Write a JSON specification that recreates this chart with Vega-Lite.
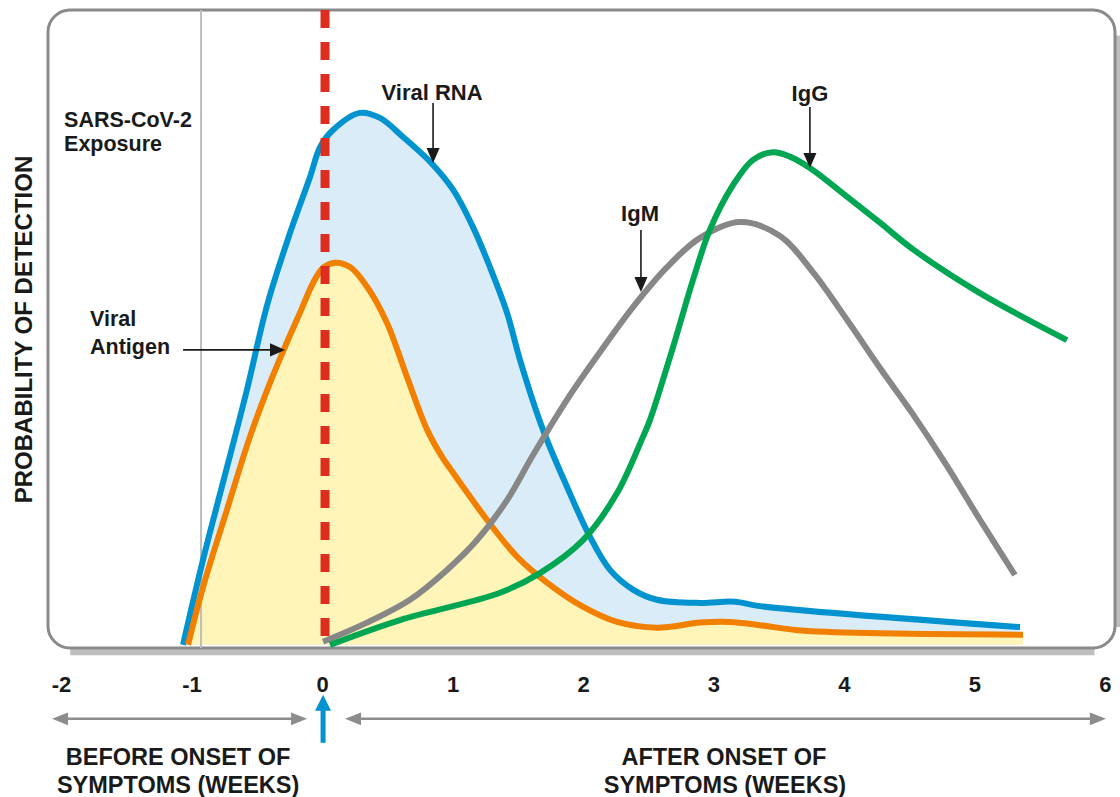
{
  "$schema": "https://vega.github.io/schema/vega-lite/v6.json",
  "width": 1067,
  "height": 638,
  "autosize": {"type": "none"},
  "padding": {"left": 48, "top": 10, "right": 5, "bottom": 149},
  "background": "white",
  "config": {
    "font": "Liberation Sans",
    "view": {"stroke": "#8a8a8a", "strokeWidth": 3, "cornerRadius": 22, "fill": "white"}
  },
  "datasets": {
    "rna": [
      {"x": -1.065, "y": 0}, {"x": -0.912, "y": 13.4}, {"x": -0.728, "y": 28.0}, {"x": -0.575, "y": 40.2},
      {"x": -0.421, "y": 53.5}, {"x": -0.245, "y": 64.9}, {"x": -0.092, "y": 73.7}, {"x": -0.015, "y": 78.4},
      {"x": 0.084, "y": 81.1}, {"x": 0.291, "y": 83.8}, {"x": 0.444, "y": 83.0}, {"x": 0.621, "y": 80.0},
      {"x": 0.828, "y": 76.1}, {"x": 1.004, "y": 71.7}, {"x": 1.157, "y": 65.8}, {"x": 1.287, "y": 59.5},
      {"x": 1.418, "y": 52.3}, {"x": 1.517, "y": 44.9}, {"x": 1.693, "y": 33.9}, {"x": 1.877, "y": 24.9},
      {"x": 2.054, "y": 17.0}, {"x": 2.207, "y": 11.8}, {"x": 2.383, "y": 8.7}, {"x": 2.567, "y": 7.1},
      {"x": 2.897, "y": 6.6}, {"x": 3.165, "y": 6.8}, {"x": 3.356, "y": 6.1}, {"x": 5.349, "y": 2.8}
    ],
    "antigen": [
      {"x": -1.027, "y": 0}, {"x": -0.912, "y": 9.1}, {"x": -0.728, "y": 21.3}, {"x": -0.552, "y": 32.8},
      {"x": -0.398, "y": 41.3}, {"x": -0.291, "y": 46.6}, {"x": -0.169, "y": 52.3}, {"x": -0.069, "y": 57.0},
      {"x": 0.008, "y": 59.4}, {"x": 0.1, "y": 60.2}, {"x": 0.215, "y": 59.5}, {"x": 0.345, "y": 56.4},
      {"x": 0.498, "y": 50.7}, {"x": 0.651, "y": 42.2}, {"x": 0.805, "y": 33.9}, {"x": 0.92, "y": 29.6},
      {"x": 1.004, "y": 27.1}, {"x": 1.264, "y": 19.7}, {"x": 1.494, "y": 13.9}, {"x": 1.724, "y": 9.8},
      {"x": 1.999, "y": 6.0}, {"x": 2.261, "y": 3.6}, {"x": 2.567, "y": 2.7}, {"x": 2.897, "y": 3.5},
      {"x": 3.126, "y": 3.6}, {"x": 3.356, "y": 3.1}, {"x": 3.701, "y": 2.2}, {"x": 5.372, "y": 1.6}
    ],
    "igm": [
      {"x": 0.008, "y": 0.5}, {"x": 0.345, "y": 3.5}, {"x": 0.674, "y": 7.1}, {"x": 0.958, "y": 11.8},
      {"x": 1.188, "y": 16.5}, {"x": 1.418, "y": 22.8}, {"x": 1.617, "y": 29.9}, {"x": 1.877, "y": 38.6},
      {"x": 2.13, "y": 46.1}, {"x": 2.383, "y": 53.2}, {"x": 2.644, "y": 59.5}, {"x": 2.897, "y": 64.1},
      {"x": 3.203, "y": 66.6}, {"x": 3.51, "y": 64.4}, {"x": 3.762, "y": 58.7}, {"x": 4.023, "y": 51.2},
      {"x": 4.276, "y": 43.6}, {"x": 4.529, "y": 36.3}, {"x": 4.789, "y": 28.2}, {"x": 5.042, "y": 19.7},
      {"x": 5.31, "y": 11.0}
    ],
    "igg": [
      {"x": 0.061, "y": 0}, {"x": 0.598, "y": 3.9}, {"x": 1.364, "y": 8.2}, {"x": 1.67, "y": 11.3},
      {"x": 2.0, "y": 16.5}, {"x": 2.261, "y": 23.9}, {"x": 2.46, "y": 32.8}, {"x": 2.513, "y": 35.4},
      {"x": 2.69, "y": 46.9}, {"x": 2.843, "y": 57.5}, {"x": 2.973, "y": 65.4}, {"x": 3.149, "y": 72.4},
      {"x": 3.303, "y": 76.4}, {"x": 3.456, "y": 77.6}, {"x": 3.586, "y": 76.9}, {"x": 3.739, "y": 75.1},
      {"x": 4.023, "y": 70.6}, {"x": 4.276, "y": 66.5}, {"x": 4.529, "y": 62.3}, {"x": 5.042, "y": 55.4},
      {"x": 5.709, "y": 48.0}
    ],
    "shadowBottom": [{"x": -1.93, "x2": 5.92, "y": -1.15}],
    "shadowRight": [{"x": 6.105, "y": 96.0, "y2": 2.8}],
    "exposure": [{"x": -0.927, "y": 100, "y2": -0.5}],
    "onset": [{"x": 0.023, "y": 100, "y2": 1.1}],
    "vshafts": [
      {"x": 0.851, "y": 85.35, "y2": 77.0},
      {"x": 3.739, "y": 84.72, "y2": 76.4},
      {"x": 2.444, "y": 65.35, "y2": 56.85}
    ],
    "downheads": [
      {"x": 0.851, "y": 77.09},
      {"x": 3.739, "y": 76.3},
      {"x": 2.444, "y": 56.77}
    ],
    "hshafts": [{"x": -1.065, "x2": -0.337, "y": 46.46}],
    "rightheads": [{"x": -0.341, "y": 46.46}],
    "labelsCenter": [
      {"x": 0.843, "y": 86.9, "text": "Viral RNA"},
      {"x": 3.739, "y": 86.8, "text": "IgG"},
      {"x": 2.437, "y": 67.9, "text": "IgM"}
    ],
    "labelsLeft": [
      {"x": -1.977, "y": 82.5, "text": "SARS-CoV-2"},
      {"x": -1.977, "y": 78.7, "text": "Exposure"},
      {"x": -1.778, "y": 51.2, "text": "Viral"},
      {"x": -1.778, "y": 46.8, "text": "Antigen"}
    ],
    "bottomText": [
      {"x": -1.103, "y": -17.8, "text": "BEFORE ONSET OF"},
      {"x": -1.103, "y": -22.2, "text": "SYMPTOMS (WEEKS)"},
      {"x": 3.08, "y": -17.8, "text": "AFTER ONSET OF"},
      {"x": 3.088, "y": -22.2, "text": "SYMPTOMS (WEEKS)"}
    ],
    "spans": [
      {"x": -2.008, "x2": -0.176, "y": -11.65},
      {"x": 0.238, "x2": 5.946, "y": -11.65}
    ],
    "spanLeftHeads": [{"x": -2.008, "y": -11.65}, {"x": 0.238, "y": -11.65}],
    "spanRightHeads": [{"x": -0.176, "y": -11.65}, {"x": 5.946, "y": -11.65}],
    "blueShaft": [{"x": 0.008, "y": -9.13, "y2": -15.43}],
    "blueHead": [{"x": 0.008, "y": -9.13}]
  },
  "encoding": {
    "x": {
      "field": "x", "type": "quantitative",
      "scale": {"domain": [-2.1, 6.077], "nice": false, "zero": false},
      "axis": {
        "values": [-2, -1, 0, 1, 2, 3, 4, 5, 6], "labelExpr": "'' + datum.value", "title": null,
        "domain": false, "ticks": false, "grid": false, "labelFlush": false,
        "labelFont": "Liberation Sans", "labelFontWeight": "bold", "labelFontSize": 22,
        "labelColor": "#1a1a1a", "labelPadding": 26
      }
    },
    "y": {
      "field": "y", "type": "quantitative",
      "scale": {"domain": [-0.5, 100], "nice": false, "zero": false},
      "axis": {
        "title": "PROBABILITY OF DETECTION", "labels": false, "ticks": false, "domain": false, "grid": false,
        "titleFont": "Liberation Sans", "titleFontWeight": "bold", "titleFontSize": 24,
        "titleColor": "#1a1a1a", "titlePadding": 12
      }
    }
  },
  "layer": [
    {"data": {"name": "shadowBottom"}, "mark": {"type": "rule", "color": "#6f6f6f", "strokeWidth": 6, "opacity": 0.45}, "encoding": {"x2": {"field": "x2"}}},
    {"data": {"name": "shadowRight"}, "mark": {"type": "rule", "color": "#6f6f6f", "strokeWidth": 5, "opacity": 0.45}, "encoding": {"y2": {"field": "y2"}}},
    {"data": {"name": "rna"}, "mark": {"type": "area", "interpolate": "catmull-rom", "color": "#d9ecf8"}, "encoding": {"y2": {"datum": 0}}},
    {"data": {"name": "antigen"}, "mark": {"type": "area", "interpolate": "catmull-rom", "color": "#fff5b8"}, "encoding": {"y2": {"datum": 0}}},
    {"data": {"name": "exposure"}, "mark": {"type": "rule", "color": "#bdbdbd", "strokeWidth": 2}, "encoding": {"y2": {"field": "y2"}}},
    {"data": {"name": "rna"}, "mark": {"type": "line", "interpolate": "catmull-rom", "color": "#0093d0", "strokeWidth": 6, "strokeCap": "butt"}, "encoding": {}},
    {"data": {"name": "antigen"}, "mark": {"type": "line", "interpolate": "catmull-rom", "color": "#f28000", "strokeWidth": 6, "strokeCap": "butt"}, "encoding": {}},
    {"data": {"name": "igm"}, "mark": {"type": "line", "interpolate": "catmull-rom", "color": "#878787", "strokeWidth": 6, "strokeCap": "butt"}, "encoding": {}},
    {"data": {"name": "igg"}, "mark": {"type": "line", "interpolate": "catmull-rom", "color": "#00a651", "strokeWidth": 6, "strokeCap": "butt"}, "encoding": {}},
    {"data": {"name": "onset"}, "mark": {"type": "rule", "color": "#dc2d1f", "strokeWidth": 9, "strokeDash": [18, 14], "strokeCap": "butt"}, "encoding": {"y2": {"field": "y2"}}},
    {"data": {"name": "vshafts"}, "mark": {"type": "rule", "color": "#1a1a1a", "strokeWidth": 1.6}, "encoding": {"y2": {"field": "y2"}}},
    {"data": {"name": "hshafts"}, "mark": {"type": "rule", "color": "#1a1a1a", "strokeWidth": 1.6}, "encoding": {"x2": {"field": "x2"}}},
    {"data": {"name": "downheads"}, "mark": {"type": "point", "shape": "M-0.87,-1L0.87,-1L0,1Z", "filled": true, "size": 225, "color": "#1a1a1a", "opacity": 1, "strokeWidth": 0}, "encoding": {}},
    {"data": {"name": "rightheads"}, "mark": {"type": "point", "shape": "M-1,-0.87L1,0L-1,0.87Z", "filled": true, "size": 225, "color": "#1a1a1a", "opacity": 1, "strokeWidth": 0}, "encoding": {}},
    {"data": {"name": "labelsCenter"}, "mark": {"type": "text", "align": "center", "baseline": "middle", "font": "Liberation Sans", "fontWeight": "bold", "fontSize": 22, "color": "#1a1a1a"}, "encoding": {"text": {"field": "text"}}},
    {"data": {"name": "labelsLeft"}, "mark": {"type": "text", "align": "left", "baseline": "middle", "font": "Liberation Sans", "fontWeight": "bold", "fontSize": 21.5, "color": "#1a1a1a"}, "encoding": {"text": {"field": "text"}}},
    {"data": {"name": "bottomText"}, "mark": {"type": "text", "align": "center", "baseline": "middle", "font": "Liberation Sans", "fontWeight": "bold", "fontSize": 23.5, "color": "#1a1a1a"}, "encoding": {"text": {"field": "text"}}},
    {"data": {"name": "spans"}, "mark": {"type": "rule", "color": "#8c8c8c", "strokeWidth": 2.5}, "encoding": {"x2": {"field": "x2"}}},
    {"data": {"name": "spanLeftHeads"}, "mark": {"type": "point", "shape": "M1,-0.8L-1,0L1,0.8Z", "filled": true, "size": 256, "color": "#8c8c8c", "opacity": 1, "strokeWidth": 0}, "encoding": {}},
    {"data": {"name": "spanRightHeads"}, "mark": {"type": "point", "shape": "M-1,-0.8L1,0L-1,0.8Z", "filled": true, "size": 256, "color": "#8c8c8c", "opacity": 1, "strokeWidth": 0}, "encoding": {}},
    {"data": {"name": "blueShaft"}, "mark": {"type": "rule", "color": "#0093d0", "strokeWidth": 5}, "encoding": {"y2": {"field": "y2"}}},
    {"data": {"name": "blueHead"}, "mark": {"type": "point", "shape": "M-1,1L1,1L0,-1Z", "filled": true, "size": 256, "color": "#0093d0", "opacity": 1, "strokeWidth": 0}, "encoding": {}}
  ]
}
